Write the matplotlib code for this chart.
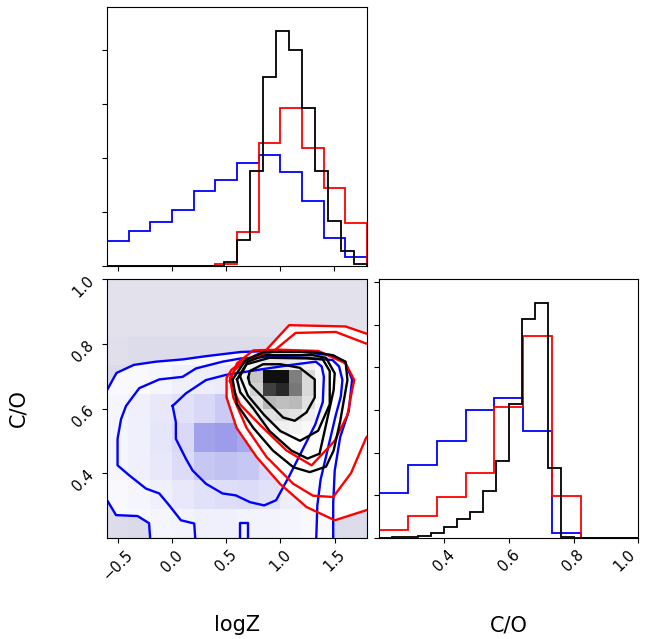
import numpy as np
import matplotlib
matplotlib.use("Agg")
import matplotlib.pyplot as plt
from matplotlib.colors import LinearSegmentedColormap

# ---------------- data ----------------
logz_range = (-0.6, 1.8)
co_range = (0.2, 1.0)
logz_edges_coarse = np.linspace(-0.6, 1.8, 13)
logz_edges_fine = np.linspace(-0.6, 1.8, 21)
co_edges_coarse = np.linspace(0.2, 1.0, 10)
co_edges_fine = np.linspace(0.2, 1.0, 21)

logz_blue = [0.47, 0.64, 0.82, 1.04, 1.39, 1.59, 1.90, 2.06, 1.73, 1.20, 0.52, 0.17]
logz_red = [0, 0, 0, 0, 0, 0.03, 0.62, 2.28, 2.92, 2.19, 1.44, 0.79]
logz_black = [0, 0, 0, 0, 0, 0, 0, 0, 0, 0.08, 0.48, 1.76, 3.49, 4.35, 4.00,
              2.93, 1.75, 0.84, 0.28, 0.03]

co_blue = [1.06, 1.71, 2.28, 2.99, 3.28, 2.50, 0.12, 0, 0]
co_red = [0.18, 0.50, 0.95, 1.51, 3.06, 4.74, 0.99, 0, 0]
co_black = [0, 0.01, 0.02, 0.05, 0.10, 0.25, 0.45, 0.60, 1.10, 1.80, 3.14, 5.14,
            5.52, 1.64, 0.02, 0, 0, 0, 0, 0]

# 2D density of blue sample (rows: C/O bins bottom->top, cols: logZ bins)
blue_density = [
    [0.02, 0.03, 0.04, 0.05, 0.06, 0.06, 0.05, 0.05, 0.04, 0.03, 0.02, 0.02],
    [0.03, 0.04, 0.06, 0.09, 0.12, 0.13, 0.14, 0.12, 0.07, 0.04, 0.02, 0.01],
    [0.04, 0.06, 0.09, 0.14, 0.22, 0.24, 0.22, 0.15, 0.08, 0.04, 0.02, 0.01],
    [0.04, 0.06, 0.10, 0.15, 0.37, 0.39, 0.34, 0.20, 0.10, 0.05, 0.02, 0.01],
    [0.04, 0.06, 0.09, 0.12, 0.15, 0.21, 0.18, 0.12, 0.08, 0.04, 0.02, 0.01],
    [0.03, 0.03, 0.04, 0.06, 0.07, 0.08, 0.08, 0.05, 0.04, 0.03, 0.01, 0.00],
    [0.01, 0.02, 0.02, 0.02, 0.02, 0.02, 0.02, 0.02, 0.02, 0.01, 0.00, 0.00],
    [0.00] * 12,
    [0.00] * 12,
]
# 2D density of black sample, sub-grid logZ 0.60..1.44, C/O 0.52..0.76
black_density = [
    [0.00, 0.03, 0.05, 0.06, 0.05, 0.03, 0.00],
    [0.02, 0.06, 0.12, 0.14, 0.12, 0.06, 0.02],
    [0.03, 0.12, 0.28, 0.25, 0.27, 0.12, 0.03],
    [0.04, 0.18, 0.75, 0.84, 0.53, 0.15, 0.03],
    [0.04, 0.22, 0.94, 0.94, 0.50, 0.15, 0.03],
    [0.02, 0.06, 0.09, 0.09, 0.08, 0.05, 0.02],
]

# contour lines (logZ, C/O)
blue_c1_x = [-0.6, -0.51, -0.35, -0.146, 0.1, 0.314, 0.636, 0.9, 1.18, 1.49, 1.60, 1.66, 1.63, 1.55, 1.50, 1.486, 1.486]
blue_c1_y = [0.655, 0.71, 0.735, 0.745, 0.752, 0.762, 0.775, 0.778, 0.776, 0.764, 0.74, 0.69, 0.593, 0.511, 0.408, 0.306, 0.2]
blue_c1b_x = [-0.6, -0.514, -0.315, -0.21, -0.2]
blue_c1b_y = [0.318, 0.27, 0.267, 0.245, 0.2]
blue_c2_x = [0.215, 0.206, 0.083, -0.024, -0.116, -0.238, -0.392, -0.5, -0.50, -0.468, -0.422, -0.30, -0.116,
             0.099, 0.222, 0.467, 0.636, 0.9, 1.2, 1.48, 1.54, 1.571, 1.556, 1.51, 1.44, 1.37, 1.34, 1.33]
blue_c2_y = [0.2, 0.244, 0.254, 0.30, 0.337, 0.352, 0.393, 0.424, 0.506, 0.567, 0.608, 0.663, 0.690,
             0.698, 0.724, 0.745, 0.755, 0.76, 0.758, 0.75, 0.73, 0.688, 0.637, 0.58, 0.48, 0.38, 0.3, 0.2]
blue_c3_x = [0.007, 0.037, 0.037, 0.13, 0.191, 0.314, 0.467, 0.589, 0.72, 0.85, 0.96, 1.08, 1.2, 1.32,
             1.39, 1.40, 1.38, 1.326, 1.1, 0.8, 0.498, 0.314, 0.13, 0.007]
blue_c3_y = [0.608, 0.557, 0.506, 0.444, 0.408, 0.367, 0.337, 0.331, 0.31, 0.30, 0.316, 0.39, 0.47, 0.55,
             0.62, 0.698, 0.73, 0.745, 0.735, 0.72, 0.704, 0.688, 0.647, 0.608]
blue_c4_x = [0.63, 0.63, 0.70, 0.70]
blue_c4_y = [0.2, 0.245, 0.245, 0.2]

red_c1_x = [1.85, 1.79, 1.60, 1.08, 0.866, 0.65, 0.55, 0.504, 0.504, 0.596, 0.78, 0.995, 1.24, 1.50, 1.79, 1.85]
red_c1_y = [0.83, 0.832, 0.854, 0.858, 0.78, 0.745, 0.72, 0.695, 0.634, 0.54, 0.45, 0.367, 0.295, 0.254, 0.285, 0.29]
red_c2_x = [1.85, 1.79, 1.51, 1.14, 0.927, 0.712, 0.58, 0.535, 0.566, 0.688, 0.872, 1.118, 1.30, 1.486, 1.65, 1.79, 1.85]
red_c2_y = [0.80, 0.801, 0.837, 0.834, 0.775, 0.755, 0.72, 0.695, 0.634, 0.54, 0.45, 0.367, 0.33, 0.326, 0.40, 0.51, 0.53]
red_c3_x = [0.535, 0.60, 0.75, 1.0, 1.35, 1.6, 1.68, 1.66, 1.617, 1.5, 1.287, 1.056, 0.81, 0.627, 0.535]
red_c3_y = [0.685, 0.74, 0.78, 0.782, 0.778, 0.74, 0.688, 0.657, 0.58, 0.50, 0.424, 0.47, 0.55, 0.613, 0.685]

black_c1_x = [0.56, 0.68, 0.85, 1.3, 1.48, 1.60, 1.617, 1.55, 1.49, 1.42, 1.27, 1.12, 0.93, 0.75, 0.6, 0.56]
black_c1_y = [0.69, 0.75, 0.775, 0.775, 0.765, 0.745, 0.688, 0.56, 0.47, 0.42, 0.403, 0.418, 0.47, 0.54, 0.613, 0.69]
black_c2_x = [0.60, 0.70, 0.86, 1.3, 1.42, 1.50, 1.49, 1.42, 1.36, 1.25, 1.1, 0.9, 0.75, 0.63, 0.60]
black_c2_y = [0.69, 0.745, 0.765, 0.765, 0.757, 0.709, 0.657, 0.55, 0.46, 0.445, 0.47, 0.53, 0.6, 0.65, 0.69]
black_c3_x = [0.627, 0.688, 0.90, 1.25, 1.39, 1.454, 1.454, 1.347, 1.18, 1.0, 0.85, 0.7, 0.627]
black_c3_y = [0.70, 0.737, 0.757, 0.755, 0.752, 0.716, 0.613, 0.531, 0.50, 0.53, 0.58, 0.64, 0.70]
black_c4_x = [0.703, 0.718, 0.84, 1.0, 1.178, 1.316, 1.316, 1.24, 1.132, 1.025, 0.84, 0.718, 0.703]
black_c4_y = [0.695, 0.716, 0.737, 0.737, 0.726, 0.69, 0.634, 0.588, 0.562, 0.572, 0.634, 0.675, 0.695]

logz_ticks = [-0.5, 0.0, 0.5, 1.0, 1.5]
co_ticks = [0.4, 0.6, 0.8, 1.0]
top_hist_ticks = [0, 1, 2, 3, 4]
right_hist_ticks = [0, 1, 2, 3, 4, 5, 6]

# ---------------- figure ----------------
W, H = 650, 639
fig = plt.figure(figsize=(W / 100, H / 100), dpi=100)

def px_axes(l, t, r, b):
    return fig.add_axes([l / W, 1 - b / H, (r - l) / W, (b - t) / H])

ax_top = px_axes(107.0, 7.3, 366.8, 266.0)
ax_2d = px_axes(106.7, 279.3, 367.3, 537.7)
ax_right = px_axes(379.3, 279.3, 638.3, 537.7)

tick_fs = 10.5
hist_lw = 1.3
# top histogram
ax_top.stairs(logz_blue, logz_edges_coarse, color="blue", lw=hist_lw, baseline=0)
ax_top.stairs(logz_red, logz_edges_coarse, color="red", lw=hist_lw, baseline=0)
ax_top.stairs(logz_black, logz_edges_fine, color="black", lw=hist_lw, baseline=0)
ax_top.set_xlim(*logz_range)
ax_top.set_ylim(0, 1.1 * max(logz_black))
ax_top.set_xticks(logz_ticks)
ax_top.set_yticks(top_hist_ticks)
ax_top.set_xticklabels([])
ax_top.set_yticklabels([])

# right histogram
ax_right.stairs(co_blue, co_edges_coarse, color="blue", lw=hist_lw, baseline=0)
ax_right.stairs(co_red, co_edges_coarse, color="red", lw=hist_lw, baseline=0)
ax_right.stairs(co_black, co_edges_fine, color="black", lw=hist_lw, baseline=0)
ax_right.set_xlim(*co_range)
ax_right.set_ylim(0, 1.1 * max(co_black))
ax_right.set_xticks(co_ticks)
ax_right.set_xticklabels([f"{t:.1f}" for t in co_ticks], rotation=45, fontsize=tick_fs)
ax_right.set_yticks(right_hist_ticks)
ax_right.set_yticklabels([])
ax_right.set_xlabel("C/O", fontsize=15)
ax_right.xaxis.set_label_coords(0.5, -0.3)
# keep the last rotated label inside the canvas
ax_right.get_xticklabels()[-1].set_horizontalalignment("right")
ax_right.get_xticklabels()[-1].set_x(0.0)

# 2D panel
ax = ax_2d
ax.set_facecolor("#e2e1ec")
ax.set_xlim(*logz_range)
ax.set_ylim(*co_range)

blue_fill_x = np.concatenate([blue_c1_x, blue_c1b_x[::-1]])
blue_fill_y = np.concatenate([blue_c1_y, blue_c1b_y[::-1]])
ax.fill(blue_fill_x, blue_fill_y, color="white", lw=0, zorder=1)

blue_cmap = LinearSegmentedColormap.from_list("bc", [(0, 0, 0.8, 0.0), (0, 0, 0.8, 1.0)])
ax.pcolormesh(logz_edges_coarse, co_edges_coarse, np.array(blue_density), cmap=blue_cmap,
              vmin=0, vmax=1, zorder=1, shading="flat")

ax.fill(red_c1_x, red_c1_y, color="white", lw=0, zorder=1)
ax.fill(black_c1_x, black_c1_y, color="white", lw=0, zorder=1)

black_cmap = LinearSegmentedColormap.from_list("kc", [(0, 0, 0, 0.0), (0, 0, 0, 1.0)])
ax.pcolormesh(logz_edges_fine[10:18], co_edges_fine[8:15], np.array(black_density), cmap=black_cmap,
              vmin=0, vmax=1, zorder=1, shading="flat")

clw = 1.7
for xs, ys in [(blue_c1_x, blue_c1_y), (blue_c1b_x, blue_c1b_y), (blue_c2_x, blue_c2_y),
               (blue_c3_x, blue_c3_y), (blue_c4_x, blue_c4_y)]:
    ax.plot(xs, ys, color="blue", lw=clw, zorder=2)
for xs, ys in [(red_c1_x, red_c1_y), (red_c2_x, red_c2_y), (red_c3_x, red_c3_y)]:
    ax.plot(xs, ys, color="red", lw=clw, zorder=2)
for xs, ys in [(black_c1_x, black_c1_y), (black_c2_x, black_c2_y), (black_c3_x, black_c3_y),
               (black_c4_x, black_c4_y)]:
    ax.plot(xs, ys, color="black", lw=clw, zorder=2)

ax.set_xticks(logz_ticks)
ax.set_xticklabels([f"{t:.1f}".replace("-", "\u2212") for t in logz_ticks], rotation=45, fontsize=tick_fs)
ax.set_yticks(co_ticks)
ax.set_yticklabels([f"{t:.1f}" for t in co_ticks], rotation=45, fontsize=tick_fs)
ax.set_xlabel("logZ", fontsize=15)
ax.set_ylabel("C/O", fontsize=15)
ax.xaxis.set_label_coords(0.5, -0.3)
ax.yaxis.set_label_coords(-0.3, 0.5)

fig.savefig("out.png", dpi=100)
